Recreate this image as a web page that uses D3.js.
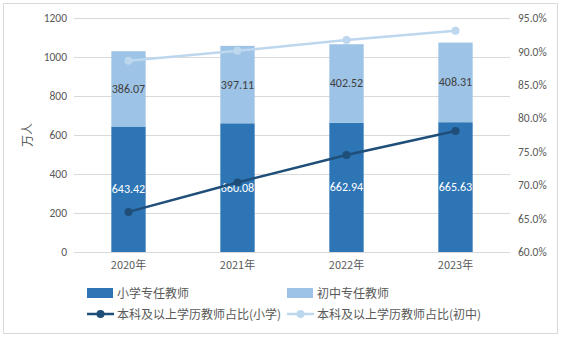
<!DOCTYPE html>
<html><head><meta charset="utf-8">
<script src="https://cdn.jsdelivr.net/npm/d3@7"></script>
<style>body{margin:0;background:#fff}svg{display:block}text{font-family:"Microsoft YaHei","Noto Sans CJK SC",sans-serif}</style>
</head><body><svg id="c" width="561" height="340"></svg>
<script>
const years = ["2020年","2021年","2022年","2023年"];
const primaryTeachers = [643.42, 660.08, 662.94, 665.63];
const juniorTeachers = [386.07, 397.11, 402.52, 408.31];
const primaryRatio = [66.0, 70.4, 74.5, 78.1];
const juniorRatio = [88.6, 90.1, 91.7, 93.1];
const leftTicks = [0,200,400,600,800,1000,1200];
const rightTicks = [60,65,70,75,80,85,90,95];

const svg = d3.select("#c");
const L=74, R=510, T=18, B=252;
const c1="#2E75B6", c2="#9DC3E6", l1="#1F4E79", l2="#BDD7EE";
const numFont = "Calibri,Carlito,'Liberation Sans',sans-serif";

svg.append("rect").attr("x",3.5).attr("y",3.5).attr("width",554).attr("height",330)
  .attr("fill","#fff").attr("stroke","#D9D9D9");

const x = d3.scaleBand().domain(years).range([L,R]).padding(0);
const y = d3.scaleLinear().domain([0,1200]).range([B,T]);
const y2 = d3.scaleLinear().domain([60,95]).range([B,T]);
const bw = x.bandwidth()*0.315;

// gridlines
svg.append("g").selectAll("line").data(leftTicks).join("line")
  .attr("x1",L).attr("x2",R).attr("y1",d=>Math.round(y(d))+0.5).attr("y2",d=>Math.round(y(d))+0.5)
  .attr("stroke","#D9D9D9").attr("stroke-width",1);

// left axis
const ya = svg.append("g").attr("transform",`translate(${L},0)`)
  .call(d3.axisLeft(y).tickValues(leftTicks).tickSize(0).tickPadding(7).tickFormat(d3.format("d")));
ya.select(".domain").remove();
ya.selectAll("text").attr("fill","#595959").style("font-size","11.5px").style("font-family",numFont);

// right axis
const yb = svg.append("g").attr("transform",`translate(${R},0)`)
  .call(d3.axisRight(y2).tickValues(rightTicks).tickSize(0).tickPadding(8).tickFormat(d=>d.toFixed(1)+"%"));
yb.select(".domain").remove();
yb.selectAll("text").attr("fill","#595959").style("font-size","11.5px").style("font-family",numFont);

// x axis
const xa = svg.append("g").attr("transform",`translate(0,${B})`)
  .call(d3.axisBottom(x).tickSize(0).tickPadding(9));
xa.select(".domain").remove();
xa.selectAll("text").attr("fill","#595959").style("font-size","11px");

// y title
svg.append("text").attr("transform","translate(32,135) rotate(-90)").attr("text-anchor","middle")
  .attr("fill","#595959").style("font-size","12px").text("万人");

// bars
const g = svg.append("g");
years.forEach((yr,i)=>{
  const cx = x(yr)+x.bandwidth()/2;
  const p = primaryTeachers[i], j = juniorTeachers[i];
  g.append("rect").attr("x",cx-bw/2).attr("width",bw).attr("y",y(p)).attr("height",y(0)-y(p)).attr("fill",c1);
  g.append("rect").attr("x",cx-bw/2).attr("width",bw).attr("y",y(p+j)).attr("height",y(p)-y(p+j)).attr("fill",c2);
  g.append("text").attr("x",cx).attr("y",y(p/2)+4).attr("text-anchor","middle").attr("fill","#fff")
    .style("font-size","12px").style("font-family",numFont).text(p.toFixed(2));
  g.append("text").attr("x",cx).attr("y",y(p+j/2)+4).attr("text-anchor","middle").attr("fill","#404040")
    .style("font-size","12px").style("font-family",numFont).text(j.toFixed(2));
});

// lines
function drawLine(data,color){
  const line = d3.line().x((d,i)=>x(years[i])+x.bandwidth()/2).y(d=>y2(d));
  svg.append("path").datum(data).attr("d",line).attr("fill","none").attr("stroke",color).attr("stroke-width",2.5);
  svg.append("g").selectAll("circle").data(data).join("circle")
    .attr("cx",(d,i)=>x(years[i])+x.bandwidth()/2).attr("cy",d=>y2(d)).attr("r",4).attr("fill",color);
}
drawLine(juniorRatio,l2);
drawLine(primaryRatio,l1);

// legend
const lg = svg.append("g").style("font-size","12px");
const items = [
  {t:"小学专任教师",type:"bar",c:c1,x:87,y:293},
  {t:"初中专任教师",type:"bar",c:c2,x:287,y:293},
  {t:"本科及以上学历教师占比(小学)",type:"line",c:l1,x:87,y:314},
  {t:"本科及以上学历教师占比(初中)",type:"line",c:l2,x:287,y:314}
];
items.forEach(it=>{
  if(it.type==="bar"){
    lg.append("rect").attr("x",it.x).attr("y",it.y-5).attr("width",26).attr("height",10).attr("fill",it.c);
  } else {
    lg.append("line").attr("x1",it.x).attr("x2",it.x+27).attr("y1",it.y).attr("y2",it.y).attr("stroke",it.c).attr("stroke-width",2.5);
    lg.append("circle").attr("cx",it.x+13.5).attr("cy",it.y).attr("r",4).attr("fill",it.c);
  }
  lg.append("text").attr("x",it.x+30).attr("y",it.y+4.5).attr("fill","#595959").text(it.t);
});
</script></body></html>
